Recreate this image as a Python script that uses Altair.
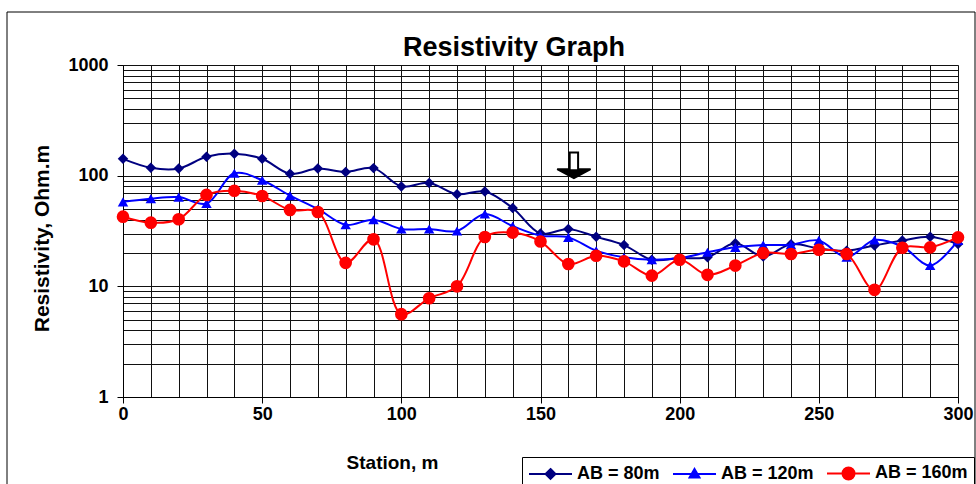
import altair as alt
import pandas as pd

FONT = "Liberation Sans"

stations = [0, 10, 20, 30, 40, 50, 60, 70, 80, 90, 100, 110, 120, 130, 140, 150,
            160, 170, 180, 190, 200, 210, 220, 230, 240, 250, 260, 270, 280, 290, 300]
ab80 = [142, 118, 116, 148, 158, 142, 104, 116, 108, 117, 80, 86, 68, 72, 51, 30,
        33, 28, 23.6, 17.4, 18, 18.3, 24.5, 18.6, 24, 22, 21, 23.4, 25.9, 28.1, 24.1]
ab120 = [58, 62, 64, 56, 105, 91, 66, 50, 36, 40, 33, 33, 31.6, 45, 35, 28.7,
         27.7, 21, 18.3, 17.4, 18, 20.3, 22.5, 23.6, 23.8, 26, 18.3, 26.2, 22.9, 15.4, 26]
ab160 = [42.6, 37.6, 40.4, 67, 73, 65.5, 49, 47, 16.3, 26.6, 5.6, 7.8, 10, 27.9, 30.6, 25.4,
         15.9, 18.9, 16.8, 12.5, 17.4, 12.7, 15.4, 20, 19.6, 21.4, 19.6, 9.3, 22.3, 22.5, 27.7]

series_names = ["AB = 80m", "AB = 120m", "AB = 160m"]
series_colors = ["#000080", "#0000FF", "#FF0000"]
point_shapes = ["diamond", "triangle-up", "circle"]
point_sizes = [110, 110, 160]
legend_symbols = [
    "M-1,0L3.78,0M1.39,-0.55L1.94,0L1.39,0.55L0.84,0Z",
    "M-1,0L3.78,0M1.39,-0.55L1.94,0.4L0.84,0.4Z",
    "M-1,0L3.78,0M2.06,0A0.67,0.67 0 1,1 0.72,0A0.67,0.67 0 1,1 2.06,0Z",
]

y_grid = [1, 2, 3, 4, 5, 6, 7, 8, 9, 10, 20, 30, 40, 50, 60, 70, 80, 90,
          100, 200, 300, 400, 500, 600, 700, 800, 900, 1000]
x_grid = list(range(0, 301, 10))

chart_title = ["Resistivity Graph"]
arrow_station = [162]
arrow_value = [124]
arrow_outline = "M-0.35,-1.07L0.35,-1.07L0.35,0.32L1.39,0.32L0,1.07L-1.39,0.32L-0.35,0.32Z"
arrow_head = "M1.39,0.32L0,1.07L-1.39,0.32Z"

rows = []
for name, vals in zip(series_names, [ab80, ab120, ab160]):
    for s, v in zip(stations, vals):
        rows.append({"station": s, "value": v, "series": name})
df = pd.DataFrame(rows)
arrow_df = pd.DataFrame({"station": arrow_station, "value": arrow_value})

x_axis = alt.Axis(
    values=x_grid, grid=True, gridColor="#111111", gridWidth=1,
    domainColor="black", domainWidth=1, tickColor="black", tickSize=6,
    tickOpacity={"condition": {"test": "datum.value % 50 == 0", "value": 1}, "value": 0},
    labelExpr="datum.value % 50 == 0 ? datum.label : ''",
    labelFlush=False, labelOverlap=False, labelPadding=2,
    labelFont=FONT, labelFontSize=18, labelFontWeight="bold", labelColor="black",
    title="Station, m", titleFont=FONT, titleFontSize=19, titleFontWeight="bold",
    titleColor="black", titleX=269, titleY=71, titleBaseline="alphabetic", titleAlign="center",
)
y_axis = alt.Axis(
    values=y_grid, grid=True, gridColor="#111111", gridWidth=1,
    domainColor="black", domainWidth=1, tickColor="black", tickSize=6,
    tickOpacity={"condition": {"test": "indexof([1,10,100,1000], datum.value) >= 0", "value": 1}, "value": 0},
    labelExpr="indexof([1,10,100,1000], datum.value) >= 0 ? datum.value : ''",
    labelOverlap=False, labelPadding=9,
    labelFont=FONT, labelFontSize=18, labelFontWeight="bold", labelColor="black",
    title="Resistivity, Ohm.m", titleFont=FONT, titleFontSize=21, titleFontWeight="bold",
    titleColor="black", titleX=-75, titleY=173, titleAngle=270,
    titleBaseline="alphabetic", titleAlign="center",
)

X = alt.X("station:Q", scale=alt.Scale(domain=[0, 300], nice=False, zero=False), axis=x_axis)
Y = alt.Y("value:Q", scale=alt.Scale(type="log", domain=[1, 1000], nice=False), axis=y_axis)

base = alt.Chart(df)

frame = alt.Chart(alt.Data(values=[{"k": 1}])).mark_rect(
    fill="transparent", stroke="black", strokeWidth=1
).encode(x=alt.value(-116), x2=alt.value(852), y=alt.value(-53), y2=alt.value(425))

title_text = alt.Chart(pd.DataFrame({"t": chart_title})).mark_text(
    font=FONT, fontSize=27, fontWeight="bold", color="black",
    align="center", baseline="alphabetic",
).encode(text="t:N", x=alt.value(391), y=alt.value(-9))

series_layers = []
for name, col, shp, sz in zip(series_names, series_colors, point_shapes, point_sizes):
    sub = base.transform_filter(alt.datum.series == name)
    series_layers.append(
        sub.mark_line(interpolate="catmull-rom", strokeWidth=2, color=col).encode(x=X, y=Y)
    )
    series_layers.append(
        sub.mark_point(filled=True, shape=shp, size=sz, color=col, opacity=1).encode(x=X, y=Y)
    )

leg = alt.Legend(
    title=None, orient="none", legendX=399, legendY=392, direction="horizontal",
    strokeColor="black", fillColor="white", padding=6,
    labelFont=FONT, labelFontSize=18, labelFontWeight="bold", labelColor="black",
    symbolSize=324, symbolStrokeWidth=2, symbolOpacity=1,
    labelOffset=29, columnPadding=9,
)
legend_layer = base.mark_point(opacity=0, size=324, strokeWidth=2).encode(
    x=X, y=Y,
    stroke=alt.Stroke("series:N", scale=alt.Scale(domain=series_names, range=series_colors), legend=leg),
    fill=alt.Fill("series:N", scale=alt.Scale(domain=series_names, range=series_colors), legend=leg),
    shape=alt.Shape("series:N", scale=alt.Scale(domain=series_names, range=legend_symbols), legend=leg),
)

arrow_body = alt.Chart(arrow_df).mark_point(
    shape=arrow_outline, size=576, filled=True, fill="white", stroke="black", strokeWidth=2, opacity=1
).encode(x=X, y=Y)
arrow_tip = alt.Chart(arrow_df).mark_point(
    shape=arrow_head, size=576, filled=True, color="black", opacity=1
).encode(x=X, y=Y)

chart = alt.layer(frame, title_text, *series_layers, legend_layer, arrow_body, arrow_tip).properties(
    width=835, height=332,
    padding={"left": 123, "top": 65, "right": 18, "bottom": 87},
    autosize=alt.AutoSizeParams(type="none"),
).configure_view(stroke="#808080", strokeWidth=2).configure(background="white")

chart.save("out.html", embed_options={"renderer": "svg", "actions": False})
